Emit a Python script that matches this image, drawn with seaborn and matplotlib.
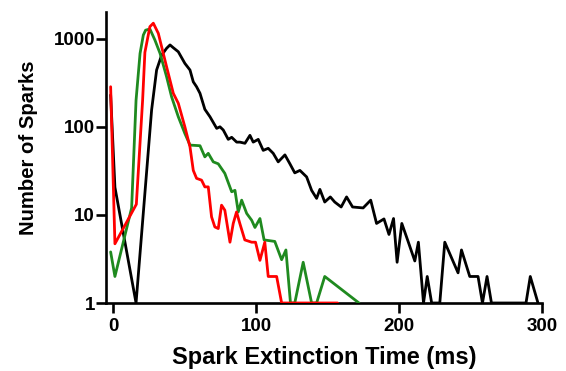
import numpy as np
import pandas as pd
import matplotlib
matplotlib.use("Agg")
import matplotlib.pyplot as plt
import seaborn as sns

# Spark extinction time histograms (counts per bin, zero bins omitted)
black_t = [-2, 1, 15.8, 26.7, 30.2, 33.7, 37.2, 39.6, 41.9, 45.4, 50, 53.6, 55.9, 58.2,
           60.6, 64, 67.6, 72.3, 74.6, 76.9, 80.4, 82.8, 86.3, 88.6, 92.1, 95.6, 97.9,
           101.4, 104.9, 108.4, 111.9, 115.4, 120.1, 123.6, 127, 130.6, 135.3, 138.8,
           142.3, 144.6, 148, 151.9, 155, 159.5, 163.3, 167.5, 174.9, 180.2, 184.3,
           189.5, 193, 196.2, 198.7, 202, 206.4, 211.1, 213.6, 217.2, 219.8, 222.9,
           228.6, 232.1, 241.4, 243.8, 249.6, 255.4, 258.5, 261.7, 264.8, 289, 292, 297.4]
black_n = [230, 20.6, 1, 155, 441, 650, 778, 850, 790, 711, 525, 441, 324, 285,
           240, 158, 130, 96, 100, 92, 72, 76, 67, 67, 65, 80, 67,
           72, 54, 57, 50, 40, 48, 38, 30, 32, 27, 19,
           15.4, 19.5, 14, 16, 14, 12.3, 16, 12.3, 12, 14.7, 8,
           9, 6, 9.1, 2.9, 8, 5, 3, 4.9, 1, 2, 1,
           1, 4.9, 2.2, 4, 2, 2, 1, 2, 1, 1, 2, 1]

green_t = [-2, 1, 12.7, 15.8, 18.6, 20.9, 22.5, 25.5, 29, 32.6, 37.2, 40.7, 45.4, 50,
           53.6, 60.6, 64, 66.4, 69.9, 73.4, 78, 82.8, 85.1, 87.4, 89.8, 93.3, 96.8,
           99.1, 102.6, 105.5, 113, 117.8, 120.8, 124, 127, 132.9, 138.8, 142.3, 148, 172]
green_n = [3.8, 2, 12, 200, 680, 1100, 1250, 1290, 967, 683, 370, 219, 130, 84,
           62, 61, 45.6, 50, 40, 38, 29.6, 18.3, 19, 10.8, 14.7, 10.4, 8.7,
           7.2, 9.1, 5.2, 5, 3.1, 4, 1, 1, 2.9, 1, 1, 2, 1]

red_t = [-2, 1, 16, 20.4, 22, 25.5, 27.9, 31.4, 37.2, 41.9, 45.4, 50, 53.6, 55.9, 58.2,
         61.7, 64, 66.4, 68.7, 71, 73.4, 75.7, 78, 81.6, 83.9, 86.2, 88.5, 92, 96.8,
         99.5, 102.6, 106, 108.4, 114.3, 117.8, 157]
red_n = [285, 4.7, 13.2, 200, 700, 1370, 1500, 1150, 480, 240, 185, 100, 59, 32, 26,
         24.8, 20.8, 20.8, 9.5, 7.3, 7, 12.9, 11.3, 4.9, 8, 10.8, 8, 5.2, 4.9,
         4.9, 3.05, 4.9, 2, 2, 1, 1]

x_ticks = [0, 100, 200, 300]
y_ticks = [1, 10, 100, 1000]
y_tick_labels = ["1", "10", "100", "1000"]

frames = []
for name, t, n in [("black", black_t, black_n), ("green", green_t, green_n), ("red", red_t, red_n)]:
    frames.append(pd.DataFrame({"time": t, "count": n, "group": name}))
df = pd.concat(frames, ignore_index=True)

palette = {"black": "#000000", "green": "#1f8a1f", "red": "#ff0000"}

sns.set_style("ticks")
plt.rcParams["font.family"] = ["Liberation Sans", "DejaVu Sans"]
plt.rcParams["font.weight"] = "bold"
plt.rcParams["text.color"] = "black"
plt.rcParams["axes.labelcolor"] = "black"

fig = plt.figure(figsize=(5.66, 3.71), dpi=100)
ax = fig.add_axes([106 / 566, 68 / 371, 435.7 / 566, 291 / 371])

sns.lineplot(data=df, x="time", y="count", hue="group", palette=palette,
             estimator=None, sort=True, linewidth=2.0, legend=False, ax=ax, zorder=3)

ax.set_yscale("log")
ax.set_xlim(-5.25, 300)
ax.set_ylim(1, 2010)
ax.set_xticks(x_ticks)
ax.set_xticklabels([str(v) for v in x_ticks])
ax.set_yticks(y_ticks)
ax.set_yticklabels(y_tick_labels)
ax.yaxis.set_minor_locator(matplotlib.ticker.NullLocator())

for side in ["top", "right"]:
    ax.spines[side].set_visible(False)
for side in ["left", "bottom"]:
    ax.spines[side].set_linewidth(1.9)
    ax.spines[side].set_color("black")

ax.tick_params(axis="both", direction="out", length=7, width=1.9, color="black",
               labelsize=13.5, labelcolor="black")
ax.tick_params(axis="y", pad=1)
ax.tick_params(axis="x", pad=4)
for lab in ax.get_xticklabels() + ax.get_yticklabels():
    lab.set_fontweight("bold")

ax.set_xlabel("Spark Extinction Time (ms)", fontsize=17, fontweight="bold",
              color="black", labelpad=8)
ax.set_ylabel("Number of Sparks", fontsize=14.6, fontweight="bold", color="black")
ax.yaxis.set_label_coords(-0.155, 0.534)

fig.savefig("out.png", dpi=100, facecolor="white")
